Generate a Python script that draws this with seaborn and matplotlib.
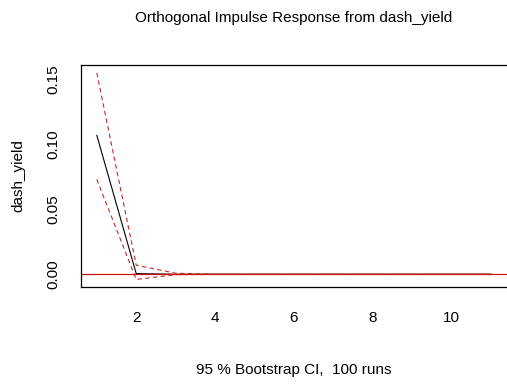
import matplotlib
matplotlib.use("Agg")
import matplotlib.pyplot as plt
import seaborn as sns
import pandas as pd

sns.set_style("white")
plt.rcParams['font.family'] = ['Liberation Sans', 'DejaVu Sans']
plt.rcParams['text.color'] = 'black'
plt.rcParams['axes.labelcolor'] = 'black'

horizon = [1, 2, 3, 4, 5, 6, 7, 8, 9, 10, 11]
irf = [0.107, 0.0005, 0.0, 0.0, 0.0, 0.0, 0.0, 0.0, 0.0, 0.0, 0.0]
upper = [0.155, 0.007, 0.0008, 0.0, 0.0, 0.0, 0.0, 0.0, 0.0, 0.0, 0.0]
lower = [0.073, -0.004, -0.0003, 0.0, 0.0, 0.0, 0.0, 0.0, 0.0, 0.0, 0.0]
x_ticks = [2, 4, 6, 8, 10]
y_ticks = [0.00, 0.05, 0.10, 0.15]
y_tick_labels = ["0.00", "0.05", "0.10", "0.15"]

df = pd.DataFrame({"h": horizon, "irf": irf, "upper": upper, "lower": lower})

fig = plt.figure(figsize=(5.07, 3.90), dpi=100)
ax = fig.add_axes([81/507, 1-287/390, (507-81)/507, (287-65)/390])

sns.lineplot(data=df, x="h", y="irf", ax=ax, color="black", lw=0.8)
sns.lineplot(data=df, x="h", y="upper", ax=ax, color="#c42a2a", lw=0.8, linestyle=(0, (4, 3)))
sns.lineplot(data=df, x="h", y="lower", ax=ax, color="#c42a2a", lw=0.8, linestyle=(0, (4, 3)))
ax.axhline(0, color="#d01010", lw=0.9)

ax.set_xlim(0.6, 11.4)
ax.set_ylim(-0.0098, 0.161)
ax.set_xticks(x_ticks)
ax.set_yticks(y_ticks)
ax.set_yticklabels(y_tick_labels, rotation=90, va="center")
ax.tick_params(axis="both", direction="out", length=7, width=0.8, labelsize=11, colors="black")
ax.tick_params(axis="x", pad=10)
ax.tick_params(axis="y", pad=8)
for s in ["left", "top", "bottom"]:
    ax.spines[s].set_color("black")
    ax.spines[s].set_linewidth(0.9)
ax.spines["right"].set_visible(False)

ax.set_xlabel("")
ax.set_ylabel("dash_yield", fontsize=11, color="black")
ax.yaxis.set_label_coords(-(81-25)/(507-81), 0.5)
fig.text(294/507, 1-18/390, "Orthogonal Impulse Response from dash_yield", ha="center", va="center", fontsize=11, color="black")
fig.text(294/507, 1-370/390, "95 % Bootstrap CI,  100 runs", ha="center", va="center", fontsize=11, color="black")

fig.savefig("out.png", dpi=100)
